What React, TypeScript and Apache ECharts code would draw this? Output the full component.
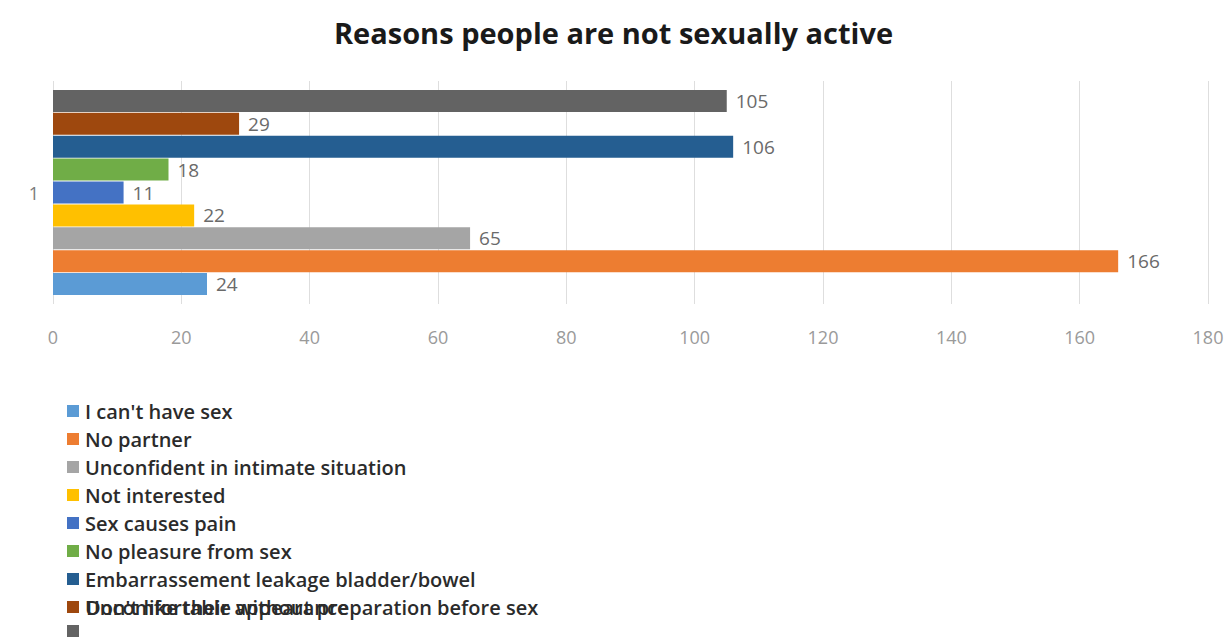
import React, { useEffect, useRef } from "react";
import * as echarts from "echarts";

const categories = ["1"];
const seriesNames = [
  "I can't have sex",
  "No partner",
  "Unconfident in intimate situation",
  "Not interested",
  "Sex causes pain",
  "No pleasure from sex",
  "Embarrassement leakage bladder/bowel",
  "Uncomfortable without preparation before sex",
  "Don't like their appearance",
];
const seriesValues = [24, 166, 65, 22, 11, 18, 106, 29, 105];
const seriesColors = [
  "#5b9bd5",
  "#ed7d31",
  "#a5a5a5",
  "#ffc000",
  "#4472c4",
  "#70ad47",
  "#255e91",
  "#9e480e",
  "#636363",
];
const xTicks = { min: 0, max: 180, interval: 20 };

export default function App() {
  const ref = useRef<HTMLDivElement>(null);

  useEffect(() => {
    if (!ref.current) return;
    const chart = echarts.init(ref.current, null, { renderer: "svg" });
    const lastName = seriesNames[seriesNames.length - 1];
    // bars are drawn last-first so the first reason sits at the bottom of the band
    const order = seriesNames.map((_, i) => seriesNames.length - 1 - i);
    chart.setOption({
      animation: false,
      backgroundColor: "#ffffff",
      title: {
        text: "Reasons people are not sexually active",
        left: "center",
        top: 13,
        textStyle: {
          fontFamily: "Open Sans",
          fontSize: 29,
          fontWeight: "bold",
          color: "#1a1a1a",
        },
      },
      grid: { left: 53, right: 19, top: 81, height: 223 },
      xAxis: {
        type: "value",
        min: xTicks.min,
        max: xTicks.max,
        interval: xTicks.interval,
        axisLine: { show: false },
        axisTick: { show: false },
        splitLine: { lineStyle: { color: "#dedede", width: 1 } },
        axisLabel: {
          margin: 24,
          color: "#9a9a9a",
          fontFamily: "Open Sans",
          fontSize: 18,
        },
      },
      yAxis: {
        type: "category",
        data: categories,
        axisLine: { show: false },
        axisTick: { show: false },
        axisLabel: {
          margin: 14,
          color: "#7a7a7a",
          fontFamily: "Open Sans",
          fontSize: 18,
        },
      },
      legend: {
        orient: "vertical",
        left: 67,
        top: 401,
        height: 260,
        padding: 0,
        itemWidth: 12,
        itemHeight: 12,
        itemGap: 8,
        icon: "rect",
        data: seriesNames,
        formatter: (name: string) => (name === lastName ? "" : name),
        textStyle: {
          fontFamily: "Open Sans",
          fontSize: 20,
          fontWeight: 600,
          color: "#2b2b2b",
          padding: [0, 0, 0, 1],
        },
      },
      graphic: [
        {
          type: "text",
          x: 86,
          y: 607,
          style: {
            text: lastName,
            font: "600 20px 'Open Sans'",
            fill: "#2b2b2b",
            verticalAlign: "middle",
          },
        },
      ],
      series: order.map((i) => ({
        name: seriesNames[i],
        type: "bar",
        data: [seriesValues[i]],
        barWidth: 22,
        barGap: "4%",
        itemStyle: { color: seriesColors[i] },
        label: {
          show: true,
          position: "right",
          distance: 9,
          color: "#6a6a6a",
          fontFamily: "Open Sans",
          fontSize: 19,
        },
      })),
    });
    return () => chart.dispose();
  }, []);

  return (
    <div
      ref={ref}
      style={{ position: "fixed", left: 0, top: 0, width: 1227, height: 642 }}
    />
  );
}
